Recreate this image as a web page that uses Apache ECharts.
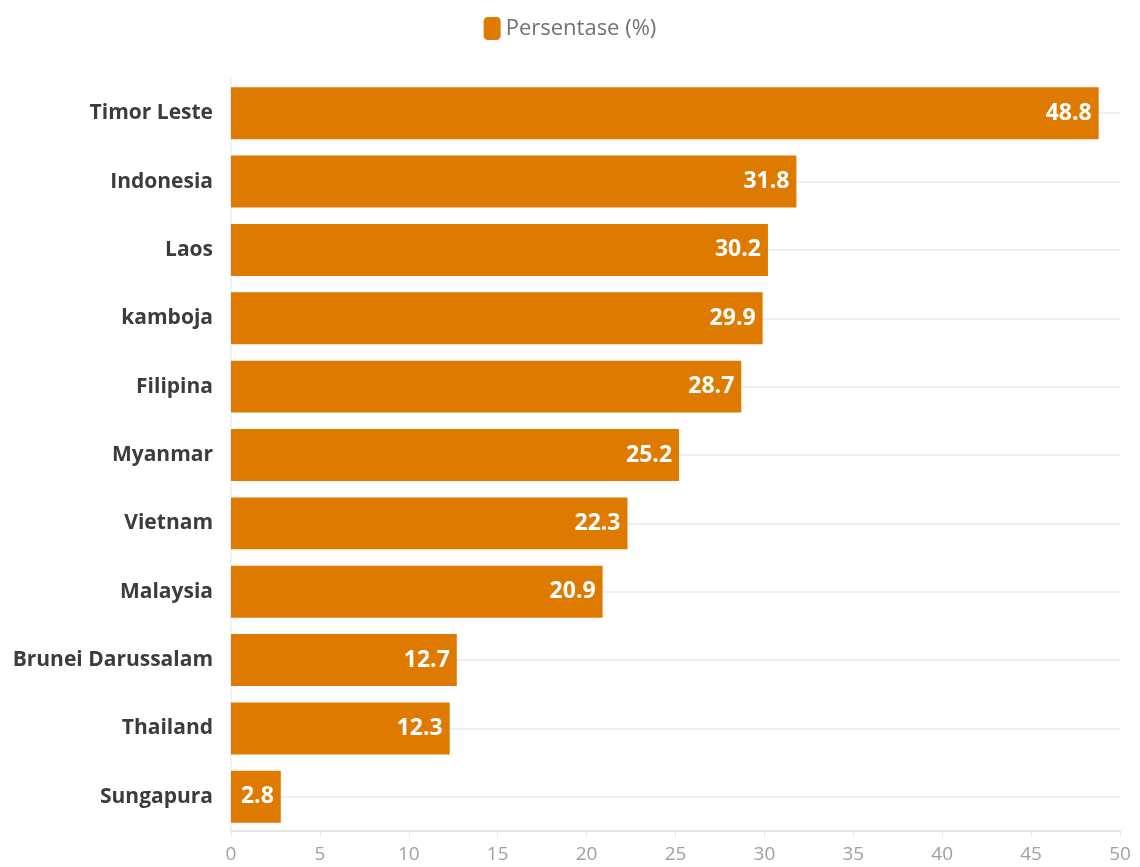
<!DOCTYPE html>
<html><head><meta charset="utf-8">
<script src="https://cdn.jsdelivr.net/npm/echarts@6/dist/echarts.min.js"></script>
<style>html,body{margin:0;padding:0;background:#fff}#c{width:1140px;height:867px}</style>
</head><body><div id="c"></div>
<script>
const categories = ["Timor Leste","Indonesia","Laos","kamboja","Filipina","Myanmar","Vietnam","Malaysia","Brunei Darussalam","Thailand","Sungapura"];
const values = [48.8,31.8,30.2,29.9,28.7,25.2,22.3,20.9,12.7,12.3,2.8];
const xTicks = [0,5,10,15,20,25,30,35,40,45,50];
const seriesName = "Persentase (%)";

const chart = echarts.init(document.getElementById('c'));
chart.setOption({
  animation: false,
  legend: {
    top: 12, left: 'center',
    itemWidth: 17, itemHeight: 23, itemGap: 7,
    icon: 'roundRect',
    textStyle: {color: '#727272', fontSize: 22, fontFamily: 'Open Sans'},
    data: [seriesName]
  },
  grid: {left: 231, right: 20, top: 79, bottom: 36, containLabel: false},
  xAxis: {
    type: 'value', min: xTicks[0], max: xTicks[xTicks.length-1], interval: 5,
    axisLine: {show: true, lineStyle: {color: '#e6e6e6', width: 2}},
    axisTick: {show: true, length: 6, lineStyle: {color: '#e6e6e6'}},
    splitLine: {show: false},
    axisLabel: {color: '#a0a0a0', fontSize: 19, fontFamily: 'Open Sans', margin: 14}
  },
  yAxis: {
    type: 'category', inverse: true, data: categories,
    axisLine: {show: true, lineStyle: {color: '#eef2f5', width: 2}},
    axisTick: {show: false},
    splitLine: {show: false},
    axisLabel: {color: '#3c3c3c', fontSize: 21, fontWeight: 'bold', fontFamily: 'Open Sans', margin: 18}
  },
  series: [
    {
      type: 'line', data: [], silent: true, z: 1,
      markLine: {
        z: 1, silent: true, symbol: 'none', label: {show: false},
        lineStyle: {color: '#efefef', type: 'solid', width: 2},
        data: categories.map(c => ({yAxis: c}))
      }
    },
    {
      name: seriesName, type: 'bar', data: values, z: 3,
      barCategoryGap: '24%',
      itemStyle: {color: '#DF7A00'},
      label: {
        show: true, position: 'insideRight', distance: 7,
        color: '#fff', fontSize: 23, fontWeight: 'bold', fontFamily: 'Open Sans'
      }
    }
  ]
});
</script></body></html>
